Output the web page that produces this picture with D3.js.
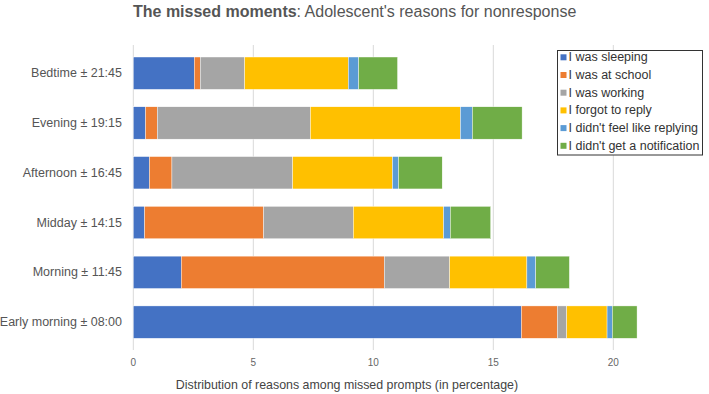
<!DOCTYPE html>
<html>
<head>
<meta charset="utf-8">
<script src="https://cdn.jsdelivr.net/npm/d3@7"></script>
<style>
  html, body { margin: 0; padding: 0; background: #fff; }
  svg { display: block; font-family: "Liberation Sans", Arial, sans-serif; }
</style>
</head>
<body>
<svg id="chart" width="709" height="394"></svg>
<script>
const categories = ["Bedtime ± 21:45", "Evening ± 19:15", "Afternoon ± 16:45", "Midday ± 14:15", "Morning ± 11:45", "Early morning ± 08:00"];
const seriesNames = ["I was sleeping", "I was at school", "I was working", "I forgot to reply", "I didn't feel like replying", "I didn't get a notification"];
const sleeping   = [2.54, 0.51, 0.67, 0.47, 2.00, 16.17];
const school     = [0.25, 0.49, 0.94, 4.96, 8.46, 1.50];
const working    = [1.85, 6.38, 5.03, 3.74, 2.72, 0.39];
const forgot     = [4.32, 6.25, 4.16, 3.76, 3.22, 1.68];
const noFeel     = [0.43, 0.50, 0.25, 0.28, 0.37, 0.22];
const noNotif    = [1.62, 2.07, 1.82, 1.68, 1.40, 1.03];
const colors = ["#4472C4", "#ED7D31", "#A5A5A5", "#FFC000", "#5B9BD5", "#70AD47"];
const xTicks = [0, 5, 10, 15, 20];

const seriesValues = [sleeping, school, working, forgot, noFeel, noNotif];
const rows = categories.map((c, i) => {
  const r = { cat: c };
  seriesNames.forEach((s, j) => r[s] = seriesValues[j][i]);
  return r;
});

const svg = d3.select("#chart");
const x = d3.scaleLinear().domain([0, 20]).range([133.3, 613.3]);
const y = d3.scaleBand().domain(categories).range([48.3, 347]).paddingInner(0.35).paddingOuter(0.175);

// gridlines
svg.append("g").selectAll("line").data(xTicks).join("line")
  .attr("x1", d => x(d)).attr("x2", d => x(d))
  .attr("y1", 45).attr("y2", 350)
  .attr("stroke", "#d9d9d9").attr("stroke-width", 1);

// stacked bars
const stack = d3.stack().keys(seriesNames)(rows);
svg.append("g").selectAll("g").data(stack).join("g")
  .attr("fill", (d, i) => colors[i])
  .selectAll("rect").data(d => d).join("rect")
  .attr("x", d => x(d[0]))
  .attr("width", d => x(d[1]) - x(d[0]))
  .attr("y", d => y(d.data.cat))
  .attr("height", y.bandwidth())
  .attr("stroke", "#ffffff").attr("stroke-width", 0.4);

// y labels
svg.append("g").selectAll("text").data(categories).join("text")
  .attr("x", 122).attr("y", d => y(d) + y.bandwidth() / 2)
  .attr("text-anchor", "end").attr("dominant-baseline", "central")
  .attr("font-size", 12.5).attr("fill", "#555")
  .text(d => d);

// x tick labels
svg.append("g").selectAll("text").data(xTicks).join("text")
  .attr("x", d => x(d)).attr("y", 362)
  .attr("text-anchor", "middle").attr("dominant-baseline", "central")
  .attr("font-size", 10).attr("fill", "#666")
  .text(d => d);

// x axis title
svg.append("text").attr("x", 347).attr("y", 385)
  .attr("text-anchor", "middle").attr("dominant-baseline", "central")
  .attr("font-size", 12.4).attr("fill", "#444")
  .text("Distribution of reasons among missed prompts (in percentage)");

// title
const t = svg.append("text").attr("x", 133).attr("y", 17)
  .attr("font-size", 16).attr("fill", "#555");
t.append("tspan").attr("font-weight", "bold").text("The missed moments");
t.append("tspan").text(": Adolescent's reasons for nonresponse");

// legend
const lg = svg.append("g");
lg.append("rect").attr("x", 557.5).attr("y", 50.5).attr("width", 145).attr("height", 104.5)
  .attr("fill", "#fff").attr("stroke", "#333").attr("stroke-width", 1);
const li = lg.selectAll("g").data(seriesNames).join("g")
  .attr("transform", (d, i) => `translate(560, ${57.3 + i * 17.7})`);
li.append("rect").attr("x", 0.5).attr("y", -3).attr("width", 6).attr("height", 6)
  .attr("fill", (d, i) => colors[i]);
li.append("text").attr("x", 8.5).attr("y", 0).attr("dominant-baseline", "central")
  .attr("font-size", 12.5).attr("fill", "#333").text(d => d);
</script>
</body>
</html>
